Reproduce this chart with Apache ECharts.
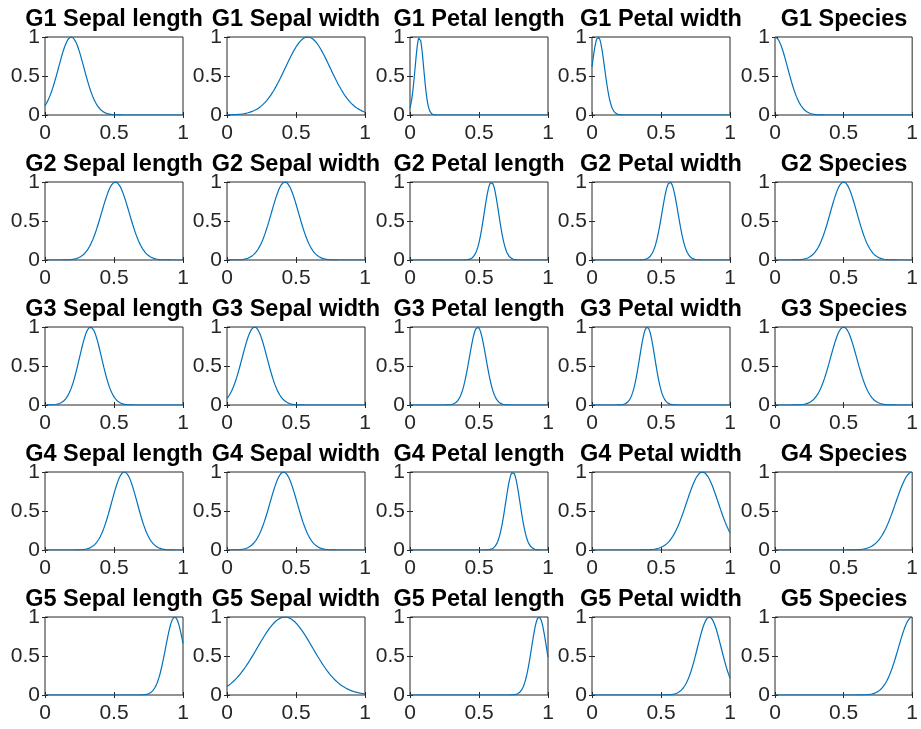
<!DOCTYPE html>
<html>
<head>
<meta charset="utf-8">
<title>Membership functions</title>
<script src="https://cdn.jsdelivr.net/npm/echarts@6/dist/echarts.min.js"></script>
<style>
  html, body { margin: 0; padding: 0; background: #ffffff; }
  #chart { width: 921px; height: 729px; }
</style>
</head>
<body>
<div id="chart"></div>
<script>
// Rule groups (rows) and inputs (columns)
const groups = ['G1', 'G2', 'G3', 'G4', 'G5'];
const inputs = ['Sepal length', 'Sepal width', 'Petal length', 'Petal width', 'Species'];

// Gaussian membership function parameters per group: centre and spread for each input
const centerG1 = [0.19, 0.585, 0.068, 0.045, 0.0];
const sigmaG1  = [0.092, 0.162, 0.031, 0.046, 0.092];
const centerG2 = [0.51, 0.42, 0.59, 0.565, 0.5];
const sigmaG2  = [0.1, 0.098, 0.052, 0.058, 0.097];
const centerG3 = [0.33, 0.2, 0.49, 0.4, 0.5];
const sigmaG3  = [0.08, 0.09, 0.06, 0.055, 0.095];
const centerG4 = [0.575, 0.41, 0.745, 0.8, 1.0];
const sigmaG4  = [0.093, 0.098, 0.052, 0.115, 0.12];
const centerG5 = [0.94, 0.42, 0.935, 0.85, 1.0];
const sigmaG5  = [0.066, 0.2, 0.054, 0.086, 0.1];

// Axis ticks (normalised input range and membership degree)
const xTicks = [0, 0.5, 1];
const yTicks = [0, 0.5, 1];

const centers = [centerG1, centerG2, centerG3, centerG4, centerG5];
const sigmas = [sigmaG1, sigmaG2, sigmaG3, sigmaG4, sigmaG5];

// gaussmf sampled over the normalised universe [0, 1]
function gaussCurve(c, s) {
  const pts = [];
  const n = 400;
  for (let i = 0; i <= n; i++) {
    const x = i / n;
    pts.push([x, Math.exp(-((x - c) * (x - c)) / (2 * s * s))]);
  }
  return pts;
}

const FONT = "'Liberation Sans', Arial, Helvetica, sans-serif";
const AX = '#262626';
const colLeft = [45, 227, 410, 592, 775];
const rowTop = [37, 182, 327, 472, 617];
const W = 138, H = 78;

const grid = [], xAxis = [], yAxis = [], series = [], title = [];

groups.forEach((g, r) => {
  inputs.forEach((name, c) => {
    const k = r * 5 + c;
    grid.push({
      left: colLeft[c], top: rowTop[r], width: W, height: H,
      show: true, borderColor: AX, borderWidth: 1, backgroundColor: '#ffffff',
      containLabel: false
    });
    const tickCommon = { show: true, inside: true, length: 3, lineStyle: { color: AX, width: 1 } };
    xAxis.push({
      gridIndex: k, type: 'value', position: 'bottom',
      min: xTicks[0], max: xTicks[xTicks.length - 1], interval: xTicks[1] - xTicks[0],
      axisLine: { show: false }, splitLine: { show: false },
      axisTick: tickCommon,
      axisLabel: {
        show: true, margin: 8, color: AX, fontSize: 21, fontFamily: FONT,
        showMinLabel: true, showMaxLabel: true,
        formatter: v => String(v)
      }
    });
    xAxis.push({
      gridIndex: k, type: 'value', position: 'top',
      min: xTicks[0], max: xTicks[xTicks.length - 1], interval: xTicks[1] - xTicks[0],
      axisLine: { show: false }, splitLine: { show: false },
      axisTick: tickCommon, axisLabel: { show: false }
    });
    yAxis.push({
      gridIndex: k, type: 'value', position: 'left',
      min: yTicks[0], max: yTicks[yTicks.length - 1], interval: yTicks[1] - yTicks[0],
      axisLine: { show: false }, splitLine: { show: false },
      axisTick: tickCommon,
      axisLabel: {
        show: true, margin: 5, color: AX, fontSize: 21, fontFamily: FONT,
        showMinLabel: true, showMaxLabel: true,
        formatter: v => String(v)
      }
    });
    yAxis.push({
      gridIndex: k, type: 'value', position: 'right',
      min: yTicks[0], max: yTicks[yTicks.length - 1], interval: yTicks[1] - yTicks[0],
      axisLine: { show: false }, splitLine: { show: false },
      axisTick: tickCommon, axisLabel: { show: false }
    });
    series.push({
      type: 'line', xAxisIndex: 2 * k, yAxisIndex: 2 * k,
      data: gaussCurve(centers[r][c], sigmas[r][c]),
      showSymbol: false, symbol: 'none', smooth: false, clip: true,
      lineStyle: { color: '#0072BD', width: 1.2 },
      z: 3
    });
    title.push({
      text: g + ' ' + name,
      left: colLeft[c] + W / 2, top: rowTop[r] - 29, textAlign: 'center',
      padding: 0,
      textStyle: { fontSize: 23.5, fontWeight: 'bold', color: '#000000', fontFamily: FONT, lineHeight: 24 }
    });
  });
});

const chart = echarts.init(document.getElementById('chart'), null, { renderer: 'canvas' });
chart.setOption({
  animation: false,
  backgroundColor: '#ffffff',
  title, grid, xAxis, yAxis, series
});
</script>
</body>
</html>
